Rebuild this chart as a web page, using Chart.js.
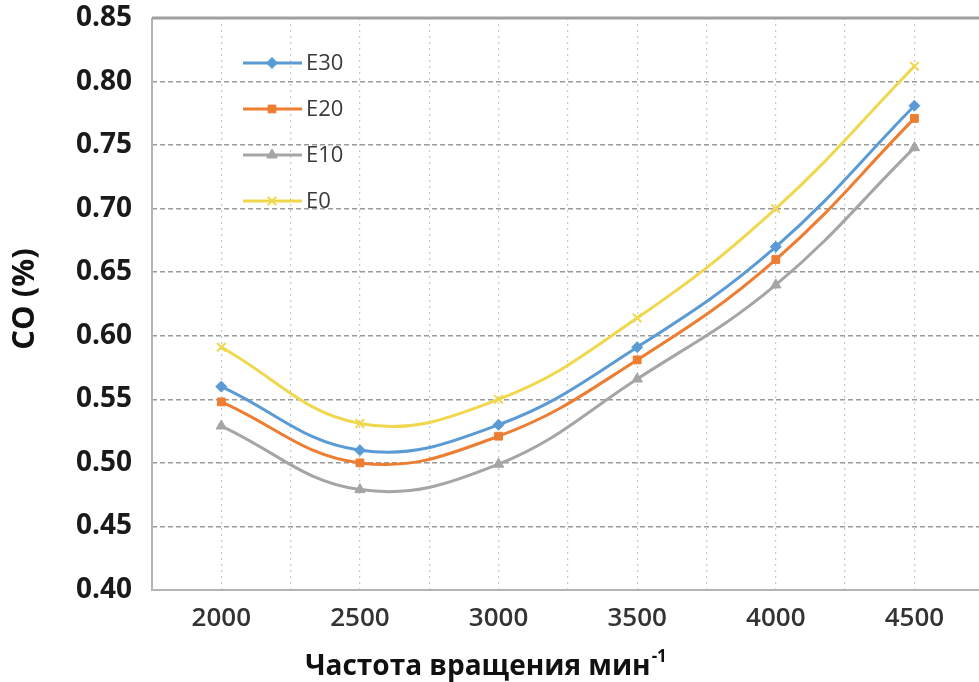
<!DOCTYPE html>
<html><head><meta charset="utf-8">
<script src="https://cdn.jsdelivr.net/npm/chart.js@4/dist/chart.umd.min.js"></script>
<style>html,body{margin:0;padding:0;background:#fff;overflow:hidden}#wrap{width:979px;height:682px;overflow:hidden}canvas{display:block}</style>
</head><body><div id="wrap"><canvas id="c" width="979" height="682"></canvas></div>
<script>
const rpm = [2000, 2500, 3000, 3500, 4000, 4500];
const e30 = [0.560, 0.510, 0.530, 0.591, 0.670, 0.781];
const e20 = [0.548, 0.500, 0.521, 0.581, 0.660, 0.771];
const e10 = [0.529, 0.479, 0.499, 0.566, 0.640, 0.748];
const e0  = [0.591, 0.531, 0.550, 0.614, 0.700, 0.812];
const seriesNames = ['E30', 'E20', 'E10', 'E0'];
const yTickValues = [0.40, 0.45, 0.50, 0.55, 0.60, 0.65, 0.70, 0.75, 0.80, 0.85];
const xGridValues = [1750, 2000, 2250, 2500, 2750, 3000, 3250, 3500, 3750, 4000, 4250, 4500];
const xTitle = 'Частота вращения мин';
const xTitleSup = '-1';
const yTitle = 'CO (%)';

const colors = ['#5b9bd5', '#ed7d31', '#a5a5a5', '#f0d84e'];
const styles = ['rectRot', 'rect', 'triangle', 'crossRot'];
const radii = [5.5, 5.5, 6, 6];
const seriesValues = [e30, e20, e10, e0];

const datasets = seriesValues.map((vals, i) => ({
  label: seriesNames[i],
  data: rpm.map((x, j) => ({x: x, y: vals[j]})),
  borderColor: colors[i],
  backgroundColor: colors[i],
  borderWidth: 3,
  pointStyle: styles[i],
  pointRadius: radii[i],
  pointBorderWidth: i === 3 ? 2 : 1,
  tension: 0.4
}));

const framePlugin = {
  id: 'frame',
  beforeDatasetsDraw(chart) {
    const {ctx, chartArea: a} = chart;
    ctx.save();
    ctx.strokeStyle = '#b4b4b4';
    ctx.lineWidth = 2;
    ctx.beginPath();
    ctx.moveTo(a.left, a.top); ctx.lineTo(a.left, a.bottom); ctx.lineTo(a.right, a.bottom);
    ctx.stroke();
    ctx.strokeStyle = '#a0a0a0';
    ctx.lineWidth = 3;
    ctx.beginPath();
    ctx.moveTo(a.left, a.top); ctx.lineTo(a.right, a.top);
    ctx.stroke();
    ctx.restore();
  },
  afterDraw(chart) {
    const ctx = chart.ctx;
    ctx.save();
    chart.data.datasets.forEach((ds, i) => {
      const y = 63 + i * 46;
      ctx.strokeStyle = ds.borderColor;
      ctx.lineWidth = 3;
      ctx.beginPath(); ctx.moveTo(243, y); ctx.lineTo(302, y); ctx.stroke();
      ctx.fillStyle = ds.backgroundColor;
      ctx.strokeStyle = ds.borderColor;
      ctx.lineWidth = ds.pointBorderWidth;
      Chart.helpers.drawPoint(ctx, {pointStyle: ds.pointStyle, radius: ds.pointRadius, rotation: 0, borderWidth: ds.pointBorderWidth}, 272, y);
      ctx.fillStyle = '#3a3a3a';
      ctx.font = '22px "Open Sans"';
      ctx.textAlign = 'left';
      ctx.textBaseline = 'middle';
      ctx.fillText(ds.label, 306, y + 1);
    });
    ctx.fillStyle = '#111';
    ctx.save();
    ctx.translate(25, 299);
    ctx.rotate(-Math.PI / 2);
    ctx.font = 'bold 31px "Open Sans"';
    ctx.textAlign = 'center';
    ctx.textBaseline = 'middle';
    ctx.fillText(yTitle, 0, 0);
    ctx.restore();
    ctx.font = 'bold 28px "Open Sans"';
    const w1 = ctx.measureText(xTitle).width;
    ctx.font = 'bold 17px "Open Sans"';
    const w2 = ctx.measureText(xTitleSup).width;
    const x0 = 486 - (w1 + w2 + 1) / 2;
    ctx.textAlign = 'left';
    ctx.textBaseline = 'alphabetic';
    ctx.font = 'bold 28px "Open Sans"';
    ctx.fillText(xTitle, x0, 675);
    ctx.font = 'bold 17px "Open Sans"';
    ctx.fillText(xTitleSup, x0 + w1 + 1, 662);
    ctx.restore();
  }
};

function zeroPad(s) { s.paddingLeft = 0; s.paddingRight = 0; s.paddingTop = 0; s.paddingBottom = 0; }

new Chart(document.getElementById('c'), {
  type: 'line',
  data: {datasets},
  options: {
    responsive: false,
    animation: false,
    layout: {autoPadding: false, padding: {top: 18, left: 0, right: 0, bottom: 0}},
    plugins: {legend: {display: false}, tooltip: {enabled: false}},
    scales: {
      x: {
        type: 'linear', min: 1750, max: 4733,
        afterBuildTicks: s => { s.ticks = xGridValues.map(v => ({value: v})); },
        afterFit: s => { s.height = 92; zeroPad(s); },
        grid: {color: '#c8c8c8', lineWidth: 1.2, drawTicks: false},
        border: {display: false, dash: [2, 4]},
        ticks: {
          padding: 13,
          color: '#333',
          font: {family: '"Open Sans"', size: 26, weight: '600'},
          maxRotation: 0, autoSkip: false,
          callback: v => rpm.includes(v) ? String(v) : ''
        }
      },
      y: {
        min: 0.40, max: 0.85,
        afterBuildTicks: s => { s.ticks = yTickValues.map(v => ({value: v})); },
        afterFit: s => { s.width = 152; zeroPad(s); },
        grid: {color: '#9a9a9a', lineWidth: 1.5, drawTicks: false},
        border: {display: false, dash: [5, 3]},
        ticks: {
          padding: 20,
          color: '#1a1a1a',
          font: {family: '"Open Sans"', size: 28, weight: 'bold'},
          callback: v => v.toFixed(2)
        }
      }
    }
  },
  plugins: [framePlugin]
});
</script>
</body></html>
